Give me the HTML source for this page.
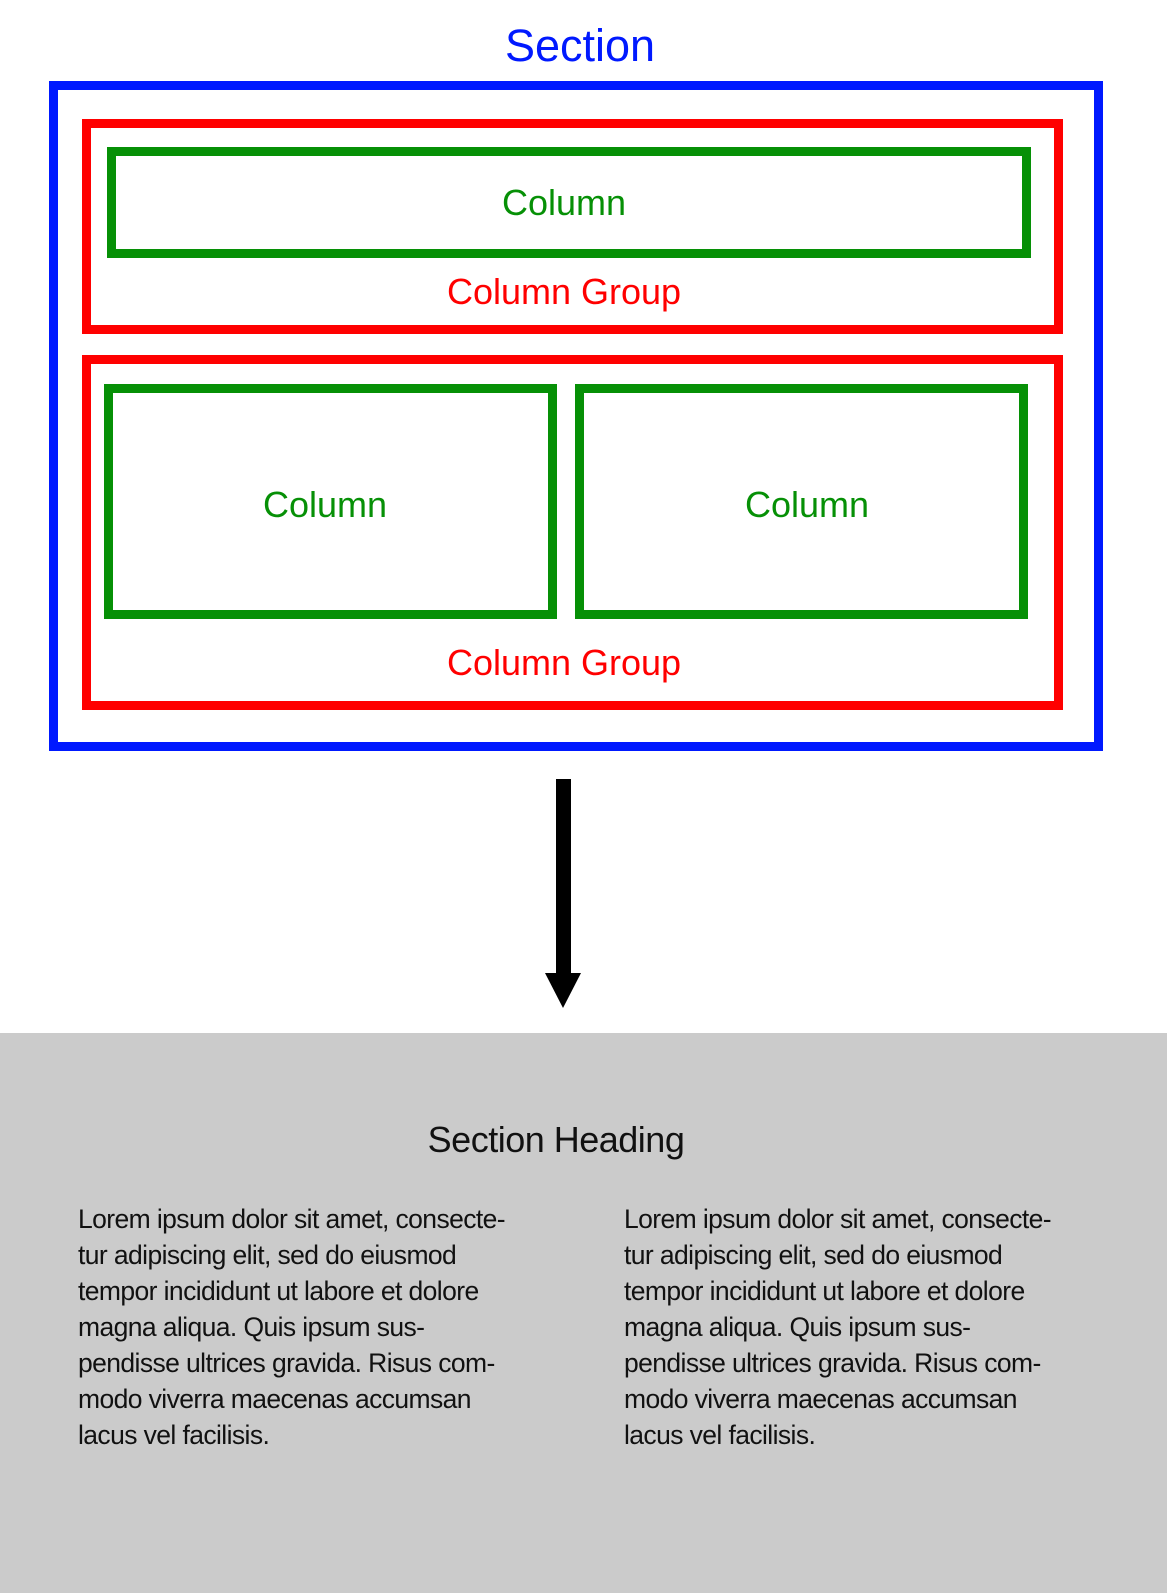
<!DOCTYPE html>
<html><head><meta charset="utf-8"><style>
html,body{margin:0;padding:0;}
body{width:1167px;height:1593px;position:relative;background:#fff;font-family:"Liberation Sans",Arial,sans-serif;overflow:hidden;}
.b{position:absolute;box-sizing:border-box;}
.t{position:absolute;text-align:center;white-space:nowrap;transform:translate(-50%,-50%);}
.p{position:absolute;font-size:26.5px;line-height:36px;white-space:pre;color:#111;letter-spacing:-0.6px;}
</style></head><body>
<div class="t" style="left:580px;top:46px;font-size:45px;color:#0019ff;">Section</div>
<div class="b" style="left:49px;top:81px;width:1054px;height:670px;border:9px solid #0019ff;"></div>
<div class="b" style="left:82px;top:119px;width:981px;height:215px;border:9px solid #ff0000;"></div>
<div class="b" style="left:107px;top:147px;width:924px;height:111px;border:9px solid #069006;"></div>
<div class="t" style="left:564px;top:203px;font-size:36px;color:#069006;">Column</div>
<div class="t" style="left:564px;top:292px;font-size:36px;color:#ff0000;">Column Group</div>
<div class="b" style="left:82px;top:355px;width:981px;height:355px;border:9px solid #ff0000;"></div>
<div class="b" style="left:104px;top:384px;width:453px;height:235px;border:9px solid #069006;"></div>
<div class="b" style="left:575px;top:384px;width:453px;height:235px;border:9px solid #069006;"></div>
<div class="t" style="left:325px;top:505px;font-size:36px;color:#069006;">Column</div>
<div class="t" style="left:807px;top:505px;font-size:36px;color:#069006;">Column</div>
<div class="t" style="left:564px;top:663px;font-size:36px;color:#ff0000;">Column Group</div>
<svg class="b" style="left:0;top:0" width="1167" height="1100">
<rect x="556" y="779" width="15" height="196" fill="#000"/>
<polygon points="545,973 581,973 563,1008" fill="#000"/>
</svg>
<div class="b" style="left:0;top:1033px;width:1167px;height:560px;background:#cbcbcb;"></div>
<div class="t" style="left:556px;top:1140px;font-size:36px;color:#111;letter-spacing:-0.5px;">Section Heading</div>
<div class="p" style="left:78px;top:1201px;">Lorem ipsum dolor sit amet, consecte-
tur adipiscing elit, sed do eiusmod
tempor incididunt ut labore et dolore
magna aliqua. Quis ipsum sus-
pendisse ultrices gravida. Risus com-
modo viverra maecenas accumsan
lacus vel facilisis.</div>
<div class="p" style="left:624px;top:1201px;">Lorem ipsum dolor sit amet, consecte-
tur adipiscing elit, sed do eiusmod
tempor incididunt ut labore et dolore
magna aliqua. Quis ipsum sus-
pendisse ultrices gravida. Risus com-
modo viverra maecenas accumsan
lacus vel facilisis.</div>
</body></html>
